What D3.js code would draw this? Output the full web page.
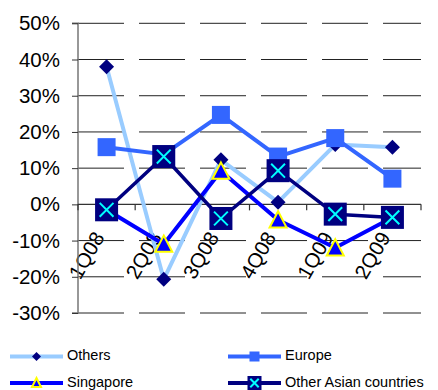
<!DOCTYPE html>
<html>
<head>
<meta charset="utf-8">
<script src="https://cdn.jsdelivr.net/npm/d3@7"></script>
<style>
  html, body { margin: 0; padding: 0; background: #fff; }
  svg { display: block; font-family: "Liberation Sans", Arial, sans-serif; }
</style>
</head>
<body>
<svg id="chart" width="438" height="390"></svg>
<script>
// Quarterly growth by region
const quarters = ["1Q08", "2Q08", "3Q08", "4Q08", "1Q09", "2Q09"];
const others = [38.0, -20.7, 12.3, 0.6, 16.5, 15.8];
const europe = [15.8, 13.8, 24.7, 13.2, 18.3, 7.1];
const singapore = [-1.5, -11.0, 9.2, -4.3, -12.0, -3.6];
const otherAsian = [-1.5, 13.2, -3.9, 9.3, -2.7, -3.6];
const yTicks = [50, 40, 30, 20, 10, 0, -10, -20, -30];

const seriesList = [
  { name: "Others", values: others, line: "#99CCFF", width: 4, marker: "diamond" },
  { name: "Europe", values: europe, line: "#3366FF", width: 4, marker: "square" },
  { name: "Singapore", values: singapore, line: "#0000FF", width: 4, marker: "triangle" },
  { name: "Other Asian countries", values: otherAsian, line: "#000080", width: 3.5, marker: "xbox" }
];

const svg = d3.select("#chart");
const plotLeft = 78, plotRight = 421, plotTop = 23.3, plotBottom = 313;

const x = d3.scaleBand().domain(quarters).range([plotLeft, plotRight]);
const y = d3.scaleLinear().domain([-30, 50]).range([plotBottom, plotTop]);
const cx = q => x(q) + x.bandwidth() / 2;

// category labels (rotated)
svg.append("g").selectAll("text").data(quarters).join("text")
  .attr("transform", d => `translate(${cx(d) - 6},${y(0) + 30}) rotate(-60)`)
  .attr("text-anchor", "end")
  .attr("dominant-baseline", "middle")
  .attr("font-size", 20.5)
  .attr("fill", "#000")
  .text(d => d);

// dashed horizontal gridlines
svg.append("g").selectAll("line").data(yTicks.filter(t => t !== 0)).join("line")
  .attr("x1", plotLeft).attr("x2", plotRight)
  .attr("y1", d => y(d)).attr("y2", d => y(d))
  .attr("stroke", "#222").attr("stroke-width", 1)
  .attr("stroke-dasharray", "46,15");

// y axis
const yAxis = d3.axisLeft(y).tickValues(yTicks).tickSize(6).tickFormat(d => d + "%");
const gy = svg.append("g").attr("transform", `translate(${plotLeft},0)`).call(yAxis);
gy.select(".domain").attr("stroke", "#777").attr("stroke-width", 1.5).attr("d", `M-6,${plotTop}H0V${plotBottom}H-6`);
gy.selectAll(".tick line").attr("stroke", "#333");
gy.selectAll(".tick text").attr("font-size", 20.5).attr("fill", "#000").attr("x", -18)
  .attr("font-family", "'Liberation Sans', Arial, sans-serif");

// x axis at zero
const boundaries = quarters.map(q => x(q) + x.bandwidth()).concat([plotLeft]);
const gx = svg.append("g");
gx.append("line").attr("x1", plotLeft).attr("x2", plotRight).attr("y1", y(0)).attr("y2", y(0))
  .attr("stroke", "#333").attr("stroke-width", 1.2);
gx.selectAll("line.tk").data(boundaries).join("line").attr("class", "tk")
  .attr("x1", d => d).attr("x2", d => d).attr("y1", y(0)).attr("y2", y(0) + 6)
  .attr("stroke", "#333").attr("stroke-width", 1.2);

// marker drawing
function drawMarker(g, type, px, py, s) {
  if (type === "diamond") {
    const r = s * 0.5;
    g.append("path").attr("d", `M${px},${py - r}L${px + r},${py}L${px},${py + r}L${px - r},${py}Z`)
      .attr("fill", "#000080");
  } else if (type === "square") {
    g.append("rect").attr("x", px - s / 2).attr("y", py - s / 2).attr("width", s).attr("height", s)
      .attr("fill", "#3366FF");
  } else if (type === "triangle") {
    const h = s * 0.9;
    g.append("path").attr("d", `M${px},${py - h / 2 - 1}L${px + s / 2},${py + h / 2}L${px - s / 2},${py + h / 2}Z`)
      .attr("fill", "#0000FF").attr("stroke", "#FFFF00").attr("stroke-width", 2);
  } else if (type === "xbox") {
    g.append("rect").attr("x", px - s / 2).attr("y", py - s / 2).attr("width", s).attr("height", s)
      .attr("fill", "#000080");
    const c = s * 0.3;
    g.append("path").attr("d", `M${px - c},${py - c}L${px + c},${py + c}M${px + c},${py - c}L${px - c},${py + c}`)
      .attr("stroke", "#00FFFF").attr("stroke-width", 2);
  }
}

const markerSize = { diamond: 15, square: 18, triangle: 17, xbox: 23 };
const lineGen = d3.line().x((d, i) => cx(quarters[i])).y(d => y(d));

seriesList.forEach(s => {
  const g = svg.append("g");
  g.append("path").attr("d", lineGen(s.values)).attr("fill", "none")
    .attr("stroke", s.line).attr("stroke-width", s.width).attr("stroke-linejoin", "round");
  s.values.forEach((v, i) => drawMarker(g, s.marker, cx(quarters[i]), y(v), markerSize[s.marker]));
});

// legend
const legendPos = [[10, 356.5], [228, 356.5], [10, 383], [228, 383]];
const legendMarker = { diamond: 9, square: 10, triangle: 9, xbox: 14 };
seriesList.forEach((s, i) => {
  const [lx, ly] = legendPos[i];
  const g = svg.append("g");
  g.append("line").attr("x1", lx).attr("x2", lx + 53).attr("y1", ly).attr("y2", ly)
    .attr("stroke", s.line).attr("stroke-width", 4);
  drawMarker(g, s.marker, lx + 26.5, ly, legendMarker[s.marker]);
  g.append("text").attr("x", lx + 57).attr("y", ly).attr("dominant-baseline", "middle")
    .attr("font-size", 14.5).attr("fill", "#000").text(s.name);
});
</script>
</body>
</html>
